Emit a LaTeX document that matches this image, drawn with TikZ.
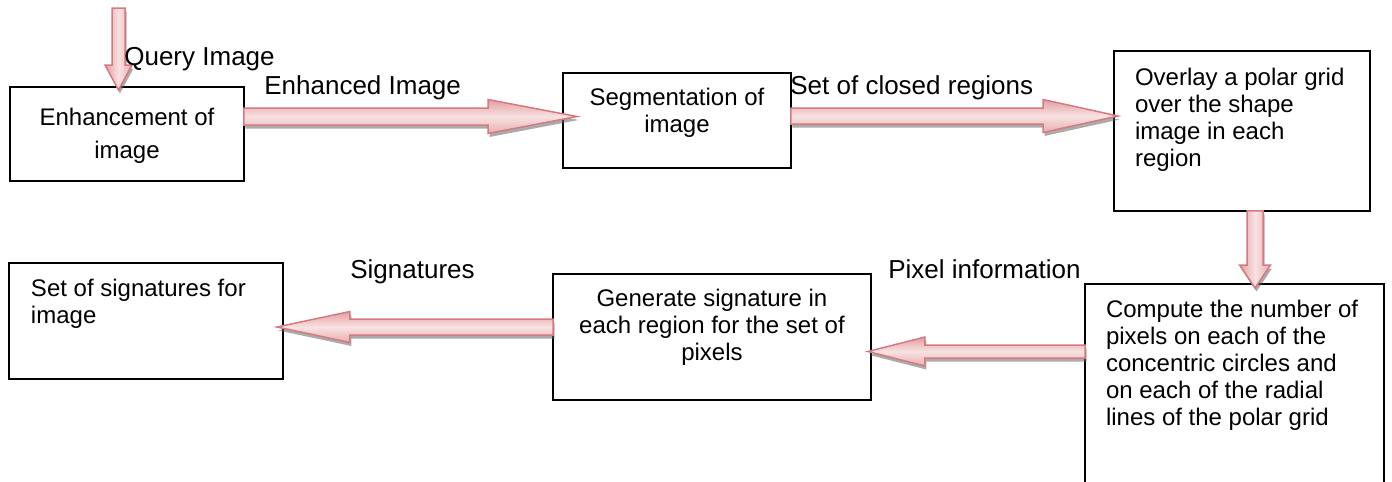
\documentclass[tikz,border=0pt]{standalone}
\usepackage{fontspec}
\setmainfont{Liberation Sans}
\usetikzlibrary{calc,shadows}

\definecolor{arrowline}{RGB}{212,122,128}
\definecolor{arrowdark}{RGB}{228,158,160}
\definecolor{arrowlight}{RGB}{248,226,226}

\newcommand{\boxfont}{\fontsize{13.66}{15.36}\selectfont}
\newcommand{\tagfont}{\fontsize{14.8}{17}\selectfont}
\newcommand{\stagetext}[4]{\parbox[t][#2][t]{#1}{\vspace*{#3}#4}}

\tikzset{
  stage/.style={draw, line width=0.04cm, inner xsep=0.4cm, inner ysep=0pt, outer sep=0pt, anchor=north west, font=\boxfont},
  tag/.style={anchor=base west, inner sep=0pt, font=\tagfont},
  bigarrow/.style n args={3}{draw=arrowline, line width=0.03cm,
    drop shadow={shadow xshift=0.03cm, shadow yshift=-0.07cm, fill=gray!80!black, opacity=0.55},
    to path={
      ($(\tikztostart)!#1!90:(\tikztotarget)$)
      -- ($(\tikztotarget)!#3!(\tikztostart)!#1!-90:(\tikztostart)$)
      -- ($(\tikztotarget)!#3!(\tikztostart)!#2!-90:(\tikztostart)$)
      -- (\tikztotarget)
      -- ($(\tikztotarget)!#3!(\tikztostart)!#2!90:(\tikztostart)$)
      -- ($(\tikztotarget)!#3!(\tikztostart)!#1!90:(\tikztostart)$)
      -- ($(\tikztostart)!#1!-90:(\tikztotarget)$)
      -- cycle}},
  across/.style={top color=arrowdark, bottom color=arrowdark!85, middle color=arrowlight},
  updown/.style={left color=arrowdark, right color=arrowdark!85, middle color=arrowlight}
}

\begin{document}
\begin{tikzpicture}[x=0.02cm, y=-0.02cm]
   \useasboundingbox (0,0) rectangle (1392,481);

   % the six stages
   \node[stage] (enh) at (10,87) {\stagetext{3.88cm}{1.88cm}{0.42cm}{\centering\fontsize{13.66}{18.8}\selectfont Enhancement of image}};
   \node[stage] (seg) at (563,73) {\stagetext{3.76cm}{1.9cm}{0.3cm}{\centering Segmentation of image}};
   \node[stage, inner xsep=0.42cm] (ovl) at (1114,51) {\stagetext{4.28cm}{3.2cm}{0.34cm}{\raggedright Overlay a polar grid over the shape image in each region}};
   \node[stage, inner xsep=0.42cm] (comp) at (1085,284) {\stagetext{5.14cm}{4.72cm}{0.32cm}{\raggedright Compute the number of pixels on each of the concentric circles and on each of the radial lines of the polar grid}};
   \node[stage] (gen) at (553,274) {\stagetext{5.56cm}{2.52cm}{0.3cm}{\centering Generate signature in each region for the set of pixels}};
   \node[stage, inner xsep=0.44cm] (sig) at (9,263) {\stagetext{4.6cm}{2.32cm}{0.32cm}{\raggedright Set of signatures for image}};

   % arrow ends
   \coordinate (q0) at (118.5,8);
   \coordinate (ab0) at (enh.east |- 0,116.5);
   \coordinate (ab1) at ($(seg.west |- 0,116.5)+(14,0)$);
   \coordinate (bc0) at (seg.east |- 0,116);
   \coordinate (bc1) at ($(ovl.west |- 0,116)+(4,0)$);
   \coordinate (cd0) at (ovl.south -| 1255,0);
   \coordinate (cd1) at ($(comp.north -| 1255,0)+(0,4)$);
   \coordinate (de0) at (comp.west |- 0,351.5);
   \coordinate (de1) at ($(gen.east |- 0,351.5)+(-3,0)$);
   \coordinate (ef0) at (gen.west |- 0,327);
   \coordinate (ef1) at ($(sig.east |- 0,327)+(-6,0)$);

   \path[bigarrow={0.13cm}{0.27cm}{0.5cm}, updown] (q0) to ($(enh.north -| q0)+(0,3)$);
   \path[bigarrow={0.17cm}{0.34cm}{1.78cm}, across] (ab0) to (ab1);
   \path[bigarrow={0.16cm}{0.33cm}{1.5cm}, across] (bc0) to (bc1);
   \path[bigarrow={0.16cm}{0.31cm}{0.46cm}, updown] (cd0) to (cd1);
   \path[bigarrow={0.13cm}{0.29cm}{1.14cm}, across] (de0) to (de1);
   \path[bigarrow={0.16cm}{0.31cm}{1.46cm}, across] (ef0) to (ef1);

   \node[tag] (query) at (124,65) {Query Image};
   \node[tag] (enhanced) at (264,94) {Enhanced Image};
   \node[tag] (regions) at (790,94) {Set of closed regions};
   \node[tag] (pixinfo) at (888,278) {Pixel information};
   \node[tag] (signat) at (350,278) {Signatures};
\end{tikzpicture}
\end{document}
